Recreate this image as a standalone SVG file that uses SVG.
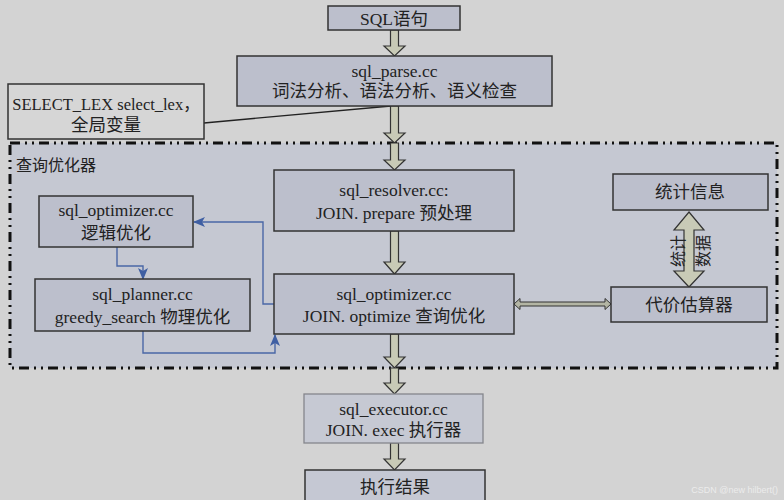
<svg xmlns="http://www.w3.org/2000/svg" width="784" height="500" viewBox="0 0 784 500">
<style>
.t{font-family:"Liberation Serif","Noto Sans CJK SC",serif;font-size:17.5px;fill:#222;text-anchor:middle}
.box{fill:#bcbfcc;stroke:#333;stroke-width:1.5}
.fat{fill:#c8cab6;stroke:#333;stroke-width:1.2;stroke-linejoin:miter}
.blue{fill:none;stroke:#4a67a6;stroke-width:1.4}
</style>
<defs>
<marker id="ba" viewBox="0 0 12 10" refX="11" refY="5" markerWidth="12" markerHeight="10" markerUnits="userSpaceOnUse" orient="auto">
<path d="M0,0 L12,5 L0,10 L3,5 z" fill="#3f5fa3"/>
</marker>
</defs>
<rect x="0" y="0" width="784" height="500" fill="#d3d3d3"/>
<g id="region">
<rect x="10" y="143" width="767" height="225" fill="#c5c8d2" stroke="#111" stroke-width="3" stroke-dasharray="10 5 2 5 2 5"/>
<text x="16" y="171" class="t" style="text-anchor:start;font-size:16px">查询优化器</text>
</g>
<g id="connectors">
<polygon class="fat" points="390.5,30 398.5,30 398.5,46 405,46 394.5,56 384,46 390.5,46"/>
<polygon class="fat" points="390.5,106 398.5,106 398.5,133 405,133 394.5,143 384,133 390.5,133"/>
<polygon class="fat" points="390.5,143 398.5,143 398.5,160 405,160 394.5,170 384,160 390.5,160"/>
<polygon class="fat" points="390.5,231 398.5,231 398.5,262 405,262 394.5,274 384,262 390.5,262"/>
<polygon class="fat" points="390.5,334 398.5,334 398.5,357 405,357 394.5,368 384,357 390.5,357"/>
<polygon class="fat" points="390.5,368 398.5,368 398.5,383 405,383 394.5,394 384,383 390.5,383"/>
<polygon class="fat" points="390.5,443 398.5,443 398.5,459 405,459 394.5,470 384,459 390.5,459"/>
<line x1="204" y1="123" x2="391" y2="106" stroke="#222" stroke-width="1.3"/>
<path class="blue" d="M117,247 V266 H143 V279" marker-end="url(#ba)"/>
<path class="blue" d="M143,331 V353 H275 V335" marker-end="url(#ba)"/>
<path class="blue" d="M274,304 H263 V222 H194" marker-end="url(#ba)"/>
<polygon fill="#b3b5a4" stroke="#333" stroke-width="1" points="514,304 520,298.5 520,302 605,302 605,298.5 611,304 605,309.5 605,306 520,306 520,309.5"/>
<polygon class="fat" points="689,212 704,230 694,230 694,271 704,271 689,287 674,271 684,271 684,230 674,230"/>
<text class="t" transform="translate(678,251) rotate(-90)" dominant-baseline="central" style="font-size:16px">统计</text>
<text class="t" transform="translate(703,251) rotate(-90)" dominant-baseline="central" style="font-size:16px">数据</text>
</g>
<g id="n_sql">
<rect class="box" x="328" y="6" width="132" height="24"/>
<text class="t" x="394" y="25">SQL语句</text>
</g>
<g id="n_parse">
<rect class="box" x="237" y="56" width="315" height="50"/>
<text class="t" x="394.5" y="77">sql_parse.cc</text>
<text class="t" x="394.5" y="97">词法分析、语法分析、语义检查</text>
</g>
<g id="n_selectlex">
<rect x="8" y="84" width="196" height="55" fill="#d6d6d6" stroke="#333" stroke-width="1.5"/>
<text class="t" x="106" y="110" style="font-size:16.5px">SELECT_LEX select_lex，</text>
<text class="t" x="106" y="131">全局变量</text>
</g>
<g id="n_resolver">
<rect class="box" x="274" y="170" width="240" height="61"/>
<text class="t" x="394" y="196">sql_resolver.cc:</text>
<text class="t" x="394" y="219">JOIN. prepare 预处理</text>
</g>
<g id="n_optimizer">
<rect class="box" x="274" y="274" width="240" height="60"/>
<text class="t" x="394" y="300">sql_optimizer.cc</text>
<text class="t" x="394" y="322">JOIN. optimize 查询优化</text>
</g>
<g id="n_logical">
<rect class="box" x="39" y="196" width="154" height="51"/>
<text class="t" x="116" y="216">sql_optimizer.cc</text>
<text class="t" x="116" y="239">逻辑优化</text>
</g>
<g id="n_planner">
<rect class="box" x="35" y="279" width="215" height="52"/>
<text class="t" x="142.5" y="300">sql_planner.cc</text>
<text class="t" x="142.5" y="323">greedy_search 物理优化</text>
</g>
<g id="n_stats">
<rect class="box" x="613" y="174" width="155" height="36"/>
<text class="t" x="690" y="198">统计信息</text>
</g>
<g id="n_cost">
<rect class="box" x="611" y="287" width="156" height="35"/>
<text class="t" x="689" y="311">代价估算器</text>
</g>
<g id="n_executor">
<rect x="304" y="394" width="179" height="49" fill="#c6c9d3" stroke="#85868c" stroke-width="1.3"/>
<text class="t" x="393.5" y="415">sql_executor.cc</text>
<text class="t" x="393.5" y="436">JOIN. exec 执行器</text>
</g>
<g id="n_result">
<rect class="box" x="305" y="470" width="180" height="40" style="fill:#c5c8d3"/>
<text class="t" x="395" y="493">执行结果</text>
</g>
<text x="778" y="493" style="font-family:'Liberation Sans',sans-serif;font-size:9px;fill:#ececec;text-anchor:end">CSDN @new hilbert()</text>
</svg>
